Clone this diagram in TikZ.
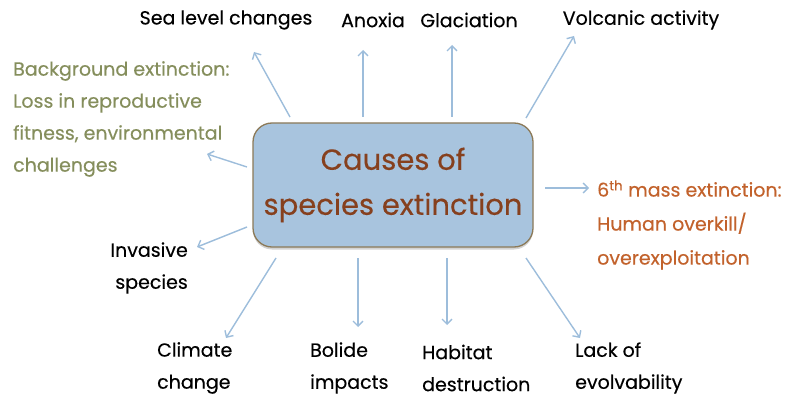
\documentclass[tikz,border=0pt]{standalone}
\usepackage{fontspec}
\setmainfont{Poppins}[FakeBold=0.35]
\usetikzlibrary{arrows.meta,shadows}
\definecolor{arrowblue}{HTML}{9DBDDB}
\definecolor{boxfill}{HTML}{A8C4DE}
\definecolor{boxborder}{HTML}{8C7A58}
\definecolor{titlebrown}{HTML}{86401E}
\definecolor{olivetext}{HTML}{858E5C}
\definecolor{orangetext}{HTML}{C2622C}
\tikzset{
  conn/.style={draw=arrowblue, line width=1.4pt, -{Straight Barb[length=5pt,width=10pt]}},
  lbl/.style={inner sep=0pt, font=\fontsize{19}{32}\selectfont, text=black},
  mainbox/.style={draw=boxborder, line width=1.3pt, fill=boxfill, rounded corners=19pt,
    minimum width=280pt, minimum height=124pt, inner sep=0pt, align=center,
    text=titlebrown, font=\fontsize{29}{45}\selectfont,
    drop shadow={opacity=0.35, shadow xshift=0pt, shadow yshift=-2.5pt}}
}
\begin{document}
\begin{tikzpicture}[x=1pt,y=-1pt]
\useasboundingbox (0,0) rectangle (785,401);
\node[mainbox] (box) at (393,185) {Causes of\\species extinction};

\node[lbl, anchor=center] (sea) at (226,20) {Sea level changes};
\node[lbl, anchor=center] (anox) at (373,20) {Anoxia};
\node[lbl, anchor=center] (glac) at (469,20) {Glaciation};
\node[lbl, anchor=center] (volc) at (641,20) {Volcanic activity};
\node[lbl, anchor=west, align=left, text=olivetext] (bg) at (13,119) {Background extinction:\\Loss in reproductive\\fitness, environmental\\challenges};
\node[lbl, anchor=west, align=left, text=orangetext, font=\fontsize{19}{34}\selectfont] (mass) at (597,225) {6\textsuperscript{th} mass extinction:\\Human overkill/\\overexploitation};
\node[lbl, anchor=east, align=right] (inv) at (188,268) {Invasive\\species};
\node[lbl, anchor=west, align=left] (clim) at (157,368) {Climate\\change};
\node[lbl, anchor=west, align=left] (bol) at (310,368) {Bolide\\impacts};
\node[lbl, anchor=west, align=left] (hab) at (422,368) {Habitat\\destruction};
\node[lbl, anchor=west, align=left] (lack) at (575,368) {Lack of\\evolvability};

\coordinate (sS) at (290,117); \coordinate (sE) at (254,52);
\coordinate (aS) at (363,117); \coordinate (aE) at (363,50);
\coordinate (gS) at (452,117); \coordinate (gE) at (452,45);
\coordinate (vS) at (526,118); \coordinate (vE) at (574,36);
\coordinate (bS) at (247,167); \coordinate (bE) at (207,154);
\coordinate (mS) at (545,188); \coordinate (mE) at (589,188);
\coordinate (iS) at (247,227); \coordinate (iE) at (197,247);
\coordinate (cS) at (276,258); \coordinate (cE) at (226,338);
\coordinate (oS) at (358,258); \coordinate (oE) at (358,327);
\coordinate (hS) at (447,258); \coordinate (hE) at (447,325);
\coordinate (lS) at (526,258); \coordinate (lE) at (580,338);

\draw[conn] (sS) -- (sE);
\draw[conn] (aS) -- (aE);
\draw[conn] (gS) -- (gE);
\draw[conn] (vS) -- (vE);
\draw[conn] (bS) -- (bE);
\draw[conn] (mS) -- (mE);
\draw[conn] (iS) -- (iE);
\draw[conn] (cS) -- (cE);
\draw[conn] (oS) -- (oE);
\draw[conn] (hS) -- (hE);
\draw[conn] (lS) -- (lE);
\end{tikzpicture}
\end{document}
